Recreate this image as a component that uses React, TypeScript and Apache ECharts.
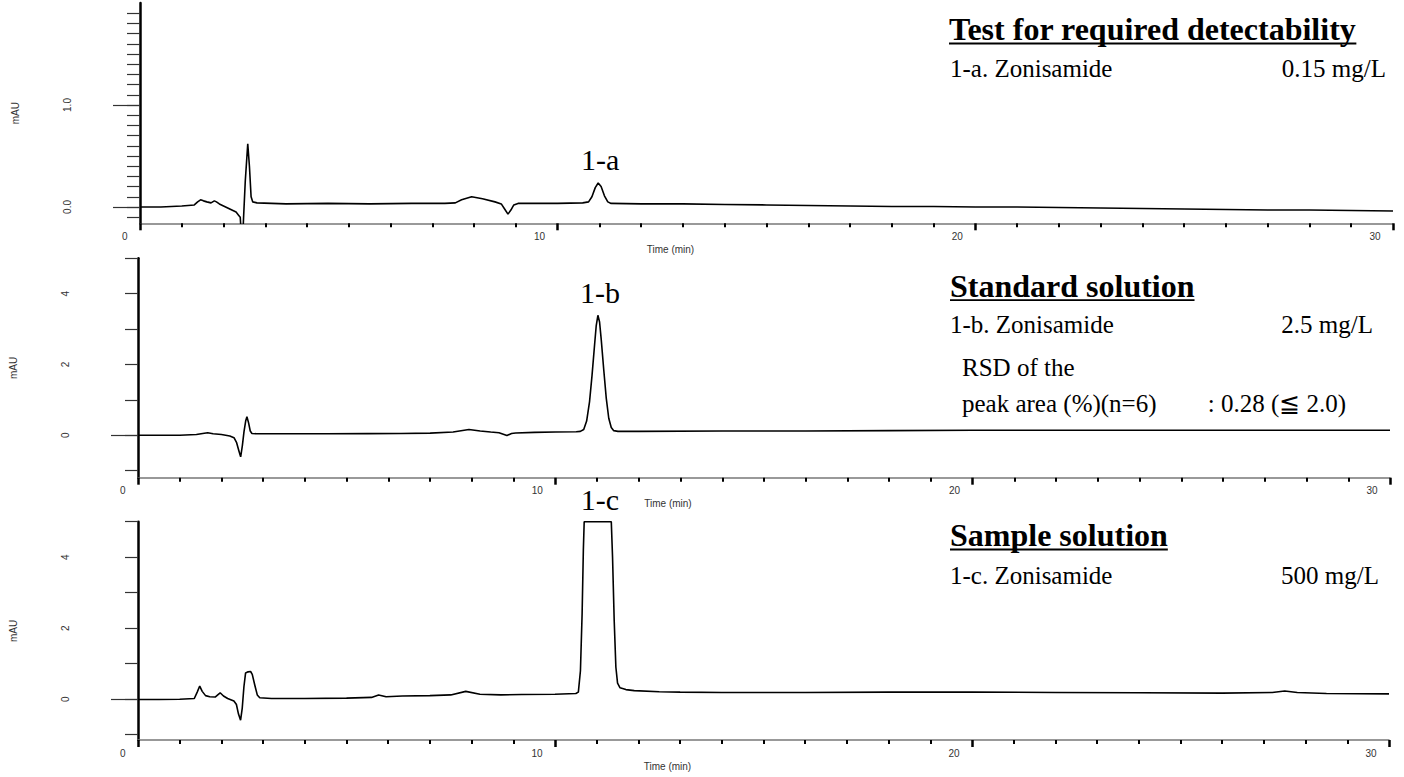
import React, { useEffect, useRef } from "react";
import * as echarts from "echarts";

// ---------- data ----------
// time axis tick labels (min)
const timeTickLabels = [0, 10, 20, 30];

// y ticks, panel 1 (mAU)
const yMinor1 = [-0.1, 0, 0.1, 0.2, 0.3, 0.4, 0.5, 0.6, 0.7, 0.8, 0.9, 1.0, 1.1, 1.2, 1.3, 1.4, 1.5, 1.6, 1.7, 1.8, 1.9];
const yMajor1 = [0, 1];
const yLabels1 = [0, 1];
// y ticks, panels 2 and 3 (mAU)
const yMinor23 = [-1, 0, 1, 2, 3, 4, 5];
const yMajor23 = [0];
const yLabels23 = [0, 2, 4];

// Test for required detectability (0.15 mg/L)
const traceTest: [number, number][] = [
  [0, 0.0], [0.5, 0.0], [1.0, 0.01], [1.3, 0.02], [1.38, 0.05], [1.45, 0.07], [1.52, 0.06], [1.6, 0.05],
  [1.7, 0.04], [1.78, 0.06], [1.83, 0.05], [1.9, 0.03], [2.0, 0.01], [2.1, -0.01], [2.2, -0.03], [2.3, -0.05],
  [2.36, -0.08], [2.4, -0.1], [2.43, -0.3], [2.46, -0.3], [2.48, -0.1], [2.52, 0.25], [2.58, 0.62], [2.62, 0.4],
  [2.66, 0.1], [2.7, 0.05], [2.8, 0.04], [3.5, 0.03], [4.5, 0.035], [5.5, 0.03], [6.5, 0.035], [7.3, 0.035],
  [7.55, 0.04], [7.7, 0.07], [7.94, 0.1], [8.2, 0.08], [8.5, 0.05], [8.65, 0.03], [8.73, -0.02], [8.81, -0.07],
  [8.88, -0.03], [8.95, 0.02], [9.05, 0.035], [9.5, 0.035], [10.0, 0.035], [10.6, 0.04], [10.74, 0.05],
  [10.82, 0.1], [10.9, 0.19], [10.97, 0.235], [11.04, 0.2], [11.12, 0.11], [11.2, 0.05], [11.28, 0.035],
  [12, 0.03], [13, 0.03], [14, 0.025], [15, 0.02], [16, 0.015], [17, 0.01], [18, 0.005], [19, 0.005],
  [20, 0.0], [21, 0.0], [22, -0.005], [23, -0.01], [24, -0.015], [25, -0.02], [26, -0.025], [27, -0.03],
  [28, -0.03], [29, -0.035], [30, -0.04],
];

// Standard solution (2.5 mg/L)
const traceStandard: [number, number][] = [
  [0, 0.0], [0.5, 0.0], [1.0, 0.0], [1.4, 0.02], [1.55, 0.05], [1.67, 0.07], [1.8, 0.04], [2.0, 0.02],
  [2.2, -0.02], [2.3, -0.07], [2.36, -0.2], [2.42, -0.45], [2.46, -0.61], [2.5, -0.3], [2.54, 0.1],
  [2.58, 0.4], [2.61, 0.52], [2.65, 0.35], [2.69, 0.12], [2.73, 0.05], [2.85, 0.04], [3.5, 0.04],
  [4.5, 0.04], [5.5, 0.045], [6.3, 0.05], [7.0, 0.06], [7.55, 0.09], [7.93, 0.16], [8.2, 0.12], [8.45, 0.09],
  [8.65, 0.07], [8.84, -0.01], [8.95, 0.05], [9.05, 0.065], [9.5, 0.08], [10.0, 0.09], [10.5, 0.1],
  [10.6, 0.11], [10.68, 0.16], [10.75, 0.4], [10.82, 0.95], [10.88, 1.7], [10.94, 2.55], [10.98, 3.1],
  [11.02, 3.39], [11.06, 3.2], [11.1, 2.7], [11.16, 1.85], [11.22, 1.05], [11.28, 0.48], [11.34, 0.22],
  [11.4, 0.13], [11.5, 0.11], [12, 0.11], [14, 0.12], [16, 0.12], [18, 0.13], [20, 0.14], [22, 0.14],
  [24, 0.14], [26, 0.14], [28, 0.14], [30, 0.14],
];

// Sample solution (500 mg/L)
const traceSample: [number, number][] = [
  [0, -0.01], [0.5, -0.01], [1.0, 0.0], [1.35, 0.02], [1.42, 0.2], [1.48, 0.37], [1.54, 0.22], [1.62, 0.1],
  [1.72, 0.07], [1.85, 0.06], [1.92, 0.13], [1.97, 0.18], [2.05, 0.09], [2.15, 0.02], [2.3, -0.05],
  [2.36, -0.15], [2.41, -0.42], [2.46, -0.59], [2.5, -0.25], [2.54, 0.35], [2.58, 0.74], [2.64, 0.77],
  [2.7, 0.78], [2.74, 0.7], [2.8, 0.4], [2.86, 0.12], [2.92, 0.04], [3.2, 0.02], [4.0, 0.02], [5.0, 0.03],
  [5.6, 0.05], [5.77, 0.12], [5.95, 0.07], [6.34, 0.09], [7.0, 0.1], [7.5, 0.12], [7.86, 0.22], [8.2, 0.14],
  [8.7, 0.12], [9.2, 0.13], [10.0, 0.14], [10.5, 0.16], [10.56, 0.2], [10.61, 0.8], [10.65, 2.4],
  [10.68, 4.2], [10.7, 5.0], [11.35, 5.0], [11.38, 4.0], [11.42, 2.2], [11.46, 0.9], [11.5, 0.45],
  [11.56, 0.32], [11.7, 0.27], [11.9, 0.24], [12.5, 0.21], [13, 0.2], [14, 0.19], [16, 0.19], [18, 0.2],
  [20, 0.2], [22, 0.19], [24, 0.18], [26, 0.17], [27.2, 0.19], [27.5, 0.23], [27.8, 0.19], [28.5, 0.16],
  [30, 0.15],
];

// peak labels
const peakNames = ["1-a", "1-b", "1-c"];
const peakTimes = [10.97, 11.02, 11.03];
const peakHeights = [0.235, 3.39, 5.0];

// ---------- styling / layout ----------
const SERIF = '"Liberation Serif", "Times New Roman", serif';
const SANS = '"Liberation Sans", Arial, sans-serif';

const grids = [
  { left: 140, top: 3, width: 1253, height: 220.3 },
  { left: 136.7, top: 258.3, width: 1253.3, height: 219.4 },
  { left: 135, top: 521.7, width: 1254, height: 218.3 },
];
const yRanges = [
  { min: -0.16, max: 2.0 },
  { min: -1.2, max: 5 },
  { min: -1.15, max: 5 },
];

function measure(text: string, font: string): number {
  const c = document.createElement("canvas").getContext("2d");
  if (!c) return text.length * 10;
  c.font = font;
  return c.measureText(text).width;
}

function xAxisFor(gi: number) {
  return {
    type: "value",
    gridIndex: gi,
    min: 0,
    max: 30,
    interval: 10,
    position: "bottom",
    name: "Time (min)",
    nameLocation: "middle",
    nameGap: 21,
    nameTextStyle: { fontFamily: SANS, fontSize: 10, color: "#333", padding: [0, 192, 0, 0] },
    axisLine: { show: true, onZero: false, lineStyle: { color: "#777", width: 1.5 } },
    axisTick: { show: true, length: 7, lineStyle: { color: "#000", width: 2.5 } },
    minorTick: { show: true, splitNumber: 10, length: 4, lineStyle: { color: "#000", width: 2 } },
    axisLabel: {
      show: true,
      customValues: timeTickLabels,
      fontFamily: SANS,
      fontSize: 10,
      color: "#333",
      align: "right",
      padding: [0, 12.5, 0, 0],
      margin: 8,
    },
    splitLine: { show: false },
    minorSplitLine: { show: false },
  };
}

function yAxesFor(gi: number, minor: number[], major: number[], labels: number[], decimals: number) {
  const r = yRanges[gi];
  return [
    {
      type: "value",
      gridIndex: gi,
      min: r.min,
      max: r.max,
      position: "left",
      name: "mAU",
      nameLocation: "middle",
      nameGap: 120,
      nameRotate: 90,
      nameTextStyle: { fontFamily: SANS, fontSize: 10, color: "#333" },
      axisLine: { show: true, onZero: false, lineStyle: { color: "#000", width: 2.5 } },
      axisTick: { show: true, length: 13, customValues: minor, lineStyle: { color: "#333", width: 1.2 } },
      axisLabel: { show: false },
      splitLine: { show: false },
    },
    {
      type: "value",
      gridIndex: gi,
      min: r.min,
      max: r.max,
      position: "left",
      axisLine: { show: false, onZero: false },
      axisTick: { show: true, length: 27, customValues: major, lineStyle: { color: "#333", width: 1.2 } },
      axisLabel: {
        show: true,
        customValues: labels,
        rotate: 90,
        margin: 68,
        fontSize: 10,
        fontFamily: SANS,
        color: "#333",
        formatter: (v: number) => Number(v).toFixed(decimals),
      },
      splitLine: { show: false },
    },
  ];
}

function lineSeries(i: number, data: [number, number][]) {
  return {
    type: "line",
    xAxisIndex: i,
    yAxisIndex: 2 * i,
    data,
    symbol: "none",
    showSymbol: false,
    clip: true,
    silent: true,
    lineStyle: { color: "#000", width: 1.6 },
  };
}

function textEl(text: string, x: number, y: number, size: number, bold: boolean, align: string) {
  return {
    type: "text",
    x,
    y,
    silent: true,
    style: {
      text,
      fontFamily: SERIF,
      fontSize: size,
      fontWeight: bold ? "bold" : "normal",
      fill: "#000",
      textAlign: align,
      align,
      textVerticalAlign: "middle",
      verticalAlign: "middle",
    },
  };
}

function titleEls(text: string, x: number, baseline: number) {
  const w = measure(text, `bold 32px ${SERIF}`);
  return [
    textEl(text, x, baseline - 10.9, 32, true, "left"),
    { type: "rect", silent: true, shape: { x, y: baseline + 2.6, width: w, height: 1.8 }, style: { fill: "#000" } },
  ];
}

export default function App() {
  const ref = useRef<HTMLDivElement>(null);

  useEffect(() => {
    if (!ref.current) return;
    const chart = echarts.init(ref.current, null, { renderer: "svg" });
    const option: any = {
      animation: false,
      backgroundColor: "#fff",
      grid: grids.map((g) => ({ ...g, containLabel: false })),
      xAxis: [xAxisFor(0), xAxisFor(1), xAxisFor(2)],
      yAxis: [
        ...yAxesFor(0, yMinor1, yMajor1, yLabels1, 1),
        ...yAxesFor(1, yMinor23, yMajor23, yLabels23, 0),
        ...yAxesFor(2, yMinor23, yMajor23, yLabels23, 0),
      ],
      series: [lineSeries(0, traceTest), lineSeries(1, traceStandard), lineSeries(2, traceSample)],
    };
    chart.setOption(option);

    const peakOffsets = [24, 23, 22];
    const peakEls = peakNames.map((name, i) => {
      const p = chart.convertToPixel({ xAxisIndex: i, yAxisIndex: 2 * i } as any, [peakTimes[i], peakHeights[i]]) as number[];
      return textEl(name, p[0] + 2, p[1] - peakOffsets[i], 30, false, "center");
    });

    const graphic = [
      ...peakEls,
      ...titleEls("Test for required detectability", 949, 40),
      textEl("1-a. Zonisamide", 950, 68.8, 25, false, "left"),
      textEl("0.15 mg/L", 1386, 68.8, 25, false, "right"),
      ...titleEls("Standard solution", 950, 296.7),
      textEl("1-b. Zonisamide", 950, 324.8, 25, false, "left"),
      textEl("2.5 mg/L", 1373, 324.8, 25, false, "right"),
      textEl("RSD of the", 962, 367.5, 25, false, "left"),
      textEl("peak area (%)(n=6)", 962, 403.2, 25, false, "left"),
      textEl(": 0.28 (\u2266 2.0)", 1277, 403.2, 25, false, "center"),
      ...titleEls("Sample solution", 950, 546),
      textEl("1-c. Zonisamide", 950, 575.5, 25, false, "left"),
      textEl("500 mg/L", 1379, 575.5, 25, false, "right"),
    ];
    chart.setOption({ graphic });

    return () => chart.dispose();
  }, []);

  return (
    <div
      ref={ref}
      style={{ position: "absolute", left: 0, top: 0, width: 1404, height: 777, background: "#fff" }}
    />
  );
}
